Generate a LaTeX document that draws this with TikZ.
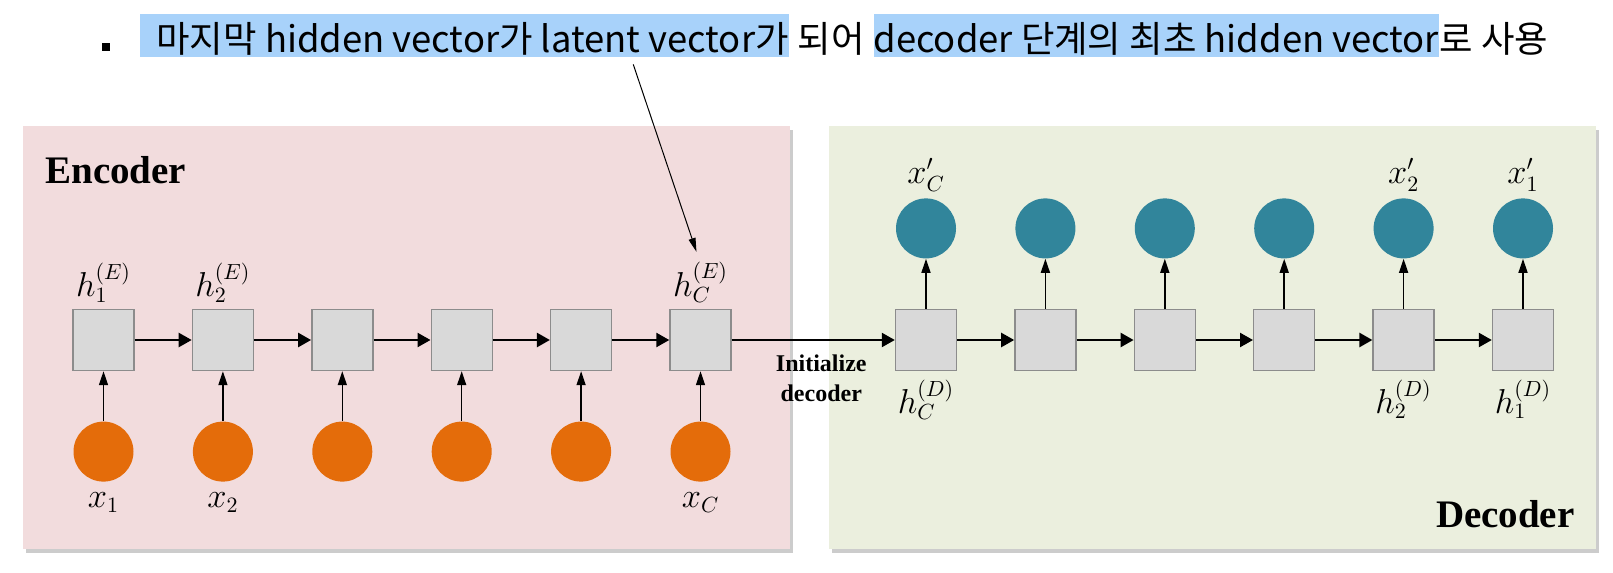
\documentclass[tikz,border=0pt]{standalone}
\usepackage{fontspec}
\setmainfont{Liberation Serif}
\newfontfamily\krfont{Noto Sans CJK KR}
\usetikzlibrary{positioning, arrows.meta, calc, shadows}
\definecolor{encbg}{RGB}{242,220,221}
\definecolor{decbg}{RGB}{235,239,222}
\definecolor{cellfill}{RGB}{217,217,217}
\definecolor{cellframe}{RGB}{140,140,140}
\definecolor{inorange}{RGB}{228,108,10}
\definecolor{outteal}{RGB}{49,133,155}
\definecolor{hlblue}{RGB}{168,210,250}

\begin{document}
\begin{tikzpicture}[x=0.5pt, y=-0.5pt,
        panel/.style={rectangle, minimum width=383.5pt, minimum height=211.5pt, drop shadow={shadow xshift=1.5pt, shadow yshift=-2pt, fill=black!40, opacity=0.5}},
        cell/.style={rectangle, minimum size=30.5pt, inner sep=0pt, fill=cellfill, draw=cellframe, line width=0.7pt},
        incirc/.style={circle, minimum size=30pt, inner sep=0pt, fill=inorange},
        outcirc/.style={circle, minimum size=30pt, inner sep=0pt, fill=outteal},
        lbl/.style={inner sep=1pt, font=\fontsize{16}{18}\selectfont},
        topline/.style={inner xsep=0pt, inner ysep=0pt, text height=19.5pt, text depth=2pt, font=\krfont\fontsize{18.2}{20}\selectfont},
        arr/.style={-{Triangle[length=6.5pt, width=7pt]}, line width=1.2pt},
        uparr/.style={-{Triangle[length=7pt, width=4.5pt]}, line width=0.75pt},
        ptr/.style={-{Triangle[length=7pt, width=3.5pt]}, line width=0.5pt}
    ]
    \useasboundingbox (0,0) rectangle (1613,573);

    % Panels
    \node (encpanel) [panel, fill=encbg] at (406.5,337.5) {};
    \node (decpanel) [panel, fill=decbg] at (1212,337.5) {};
    \node (enctitle) [anchor=base west, inner sep=0pt, font=\bfseries\fontsize{19.5}{22}\selectfont] at (45,183) {Encoder};
    \node (dectitle) [anchor=base east, inner sep=0pt, font=\bfseries\fontsize{19.5}{22}\selectfont] at (1575,527) {Decoder};

    % Top line
    \node (bullet) [fill=black, minimum size=4pt, inner sep=0pt] at (106,47) {};
    \node (t1) [topline, fill=hlblue, anchor=base west] at (140,53) {\hspace*{8pt}마지막 hidden vector가 latent vector가};
    \node (t2) [topline, anchor=base west] at (t1.base east) {\ 되어\ \null};
    \node (t3) [topline, fill=hlblue, anchor=base west] at (t2.base east) {decoder 단계의 최초 hidden vector};
    \node (t4) [topline, anchor=base west] at (t3.base east) {로 사용};

    % Encoder cells
    \node (e1) [cell] at (103.5,340) {};
    \node (e2) [cell, right=28.5pt of e1] {};
    \node (e3) [cell, right=28.5pt of e2] {};
    \node (e4) [cell, right=28.5pt of e3] {};
    \node (e5) [cell, right=28.5pt of e4] {};
    \node (e6) [cell, right=28.5pt of e5] {};

    % Inputs
    \node (x1) [incirc, below=25pt of e1] {};
    \node (x2) [incirc, below=25pt of e2] {};
    \node (x3) [incirc, below=25pt of e3] {};
    \node (x4) [incirc, below=25pt of e4] {};
    \node (x5) [incirc, below=25pt of e5] {};
    \node (x6) [incirc, below=25pt of e6] {};

    % Decoder cells
    \node (d1) [cell] at (926,340) {};
    \node (d2) [cell, right=28.5pt of d1] {};
    \node (d3) [cell, right=28.5pt of d2] {};
    \node (d4) [cell, right=28.5pt of d3] {};
    \node (d5) [cell, right=28.5pt of d4] {};
    \node (d6) [cell, right=28.5pt of d5] {};

    % Outputs
    \node (y1) [outcirc, above=25pt of d1] {};
    \node (y2) [outcirc, above=25pt of d2] {};
    \node (y3) [outcirc, above=25pt of d3] {};
    \node (y4) [outcirc, above=25pt of d4] {};
    \node (y5) [outcirc, above=25pt of d5] {};
    \node (y6) [outcirc, above=25pt of d6] {};

    % Labels
    \node (he1) [lbl, above=2pt of e1] {$h_1^{(E)}$};
    \node (he2) [lbl, above=2pt of e2] {$h_2^{(E)}$};
    \node (he6) [lbl, above=2pt of e6] {$h_C^{(E)}$};
    \node (lx1) [lbl, below=4pt of x1] {$x_1$};
    \node (lx2) [lbl, below=4pt of x2] {$x_2$};
    \node (lx6) [lbl, below=4pt of x6] {$x_C$};
    \node (ly1) [lbl, above=2pt of y1] {$x'_C$};
    \node (ly5) [lbl, above=2pt of y5] {$x'_2$};
    \node (ly6) [lbl, above=2pt of y6] {$x'_1$};
    \node (hd1) [lbl, below=3pt of d1] {$h_C^{(D)}$};
    \node (hd5) [lbl, below=3pt of d5] {$h_2^{(D)}$};
    \node (hd6) [lbl, below=3pt of d6] {$h_1^{(D)}$};
    \node (initlbl) [below=7pt, xshift=4pt, inner sep=0pt, align=center, font=\bfseries\fontsize{12}{15}\selectfont] at ($(e6.east)!0.5!(d1.west)$) {Initialize\\decoder};

    % Arrows
    \draw[arr] (e1) -- (e2);
    \draw[arr] (e2) -- (e3);
    \draw[arr] (e3) -- (e4);
    \draw[arr] (e4) -- (e5);
    \draw[arr] (e5) -- (e6);
    \draw[arr] (e6) -- (d1);
    \draw[arr] (d1) -- (d2);
    \draw[arr] (d2) -- (d3);
    \draw[arr] (d3) -- (d4);
    \draw[arr] (d4) -- (d5);
    \draw[arr] (d5) -- (d6);
    \draw[uparr] (x1) -- (e1);
    \draw[uparr] (x2) -- (e2);
    \draw[uparr] (x3) -- (e3);
    \draw[uparr] (x4) -- (e4);
    \draw[uparr] (x5) -- (e5);
    \draw[uparr] (x6) -- (e6);
    \draw[uparr] (d1) -- (y1);
    \draw[uparr] (d2) -- (y2);
    \draw[uparr] (d3) -- (y3);
    \draw[uparr] (d4) -- (y4);
    \draw[uparr] (d5) -- (y5);
    \draw[uparr] (d6) -- (y6);
    \draw[ptr] ($(t1.south west)!0.76!(t1.south east)+(0,7)$) -- ([xshift=-2pt, yshift=4pt]he6.north);

\end{tikzpicture}
\end{document}
